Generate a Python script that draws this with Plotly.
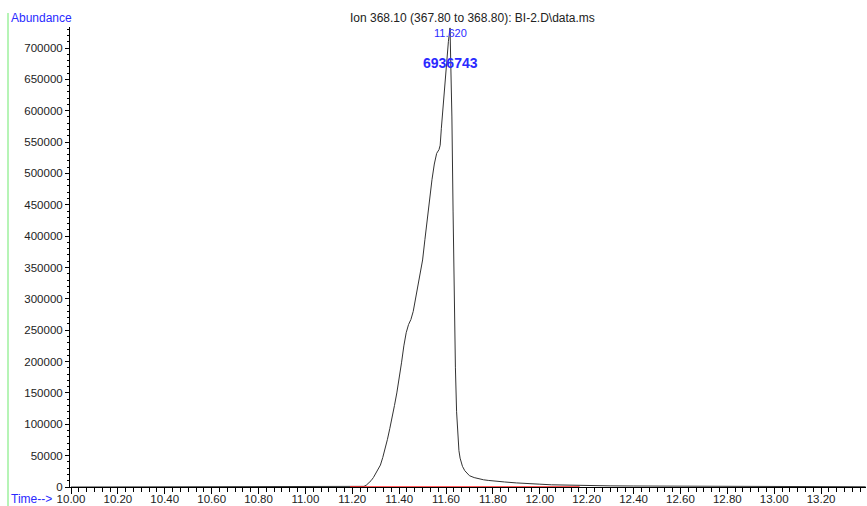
import plotly.graph_objects as go

# Chromatogram trace (time in min, abundance)
time = [10.00, 10.50, 11.00, 11.20, 11.23, 11.25, 11.26, 11.27, 11.28, 11.29, 11.30,
        11.31, 11.32, 11.33, 11.34, 11.35, 11.36, 11.37, 11.38, 11.39, 11.40,
        11.41, 11.42, 11.43, 11.44, 11.45, 11.46, 11.47, 11.48, 11.49, 11.497,
        11.50, 11.51, 11.52, 11.53, 11.54, 11.55, 11.56, 11.57, 11.575, 11.58,
        11.59, 11.60, 11.61, 11.617, 11.625, 11.630, 11.635, 11.640, 11.645,
        11.650, 11.655, 11.660, 11.670, 11.680, 11.690, 11.70, 11.72, 11.74,
        11.76, 11.78, 11.80, 11.85, 11.90, 11.95, 12.00, 12.05, 12.10, 12.15,
        12.20, 12.30, 12.40, 12.50, 12.60, 12.70, 12.80, 12.90, 13.00, 13.10,
        13.20, 13.30, 13.39]
abundance = [0, 0, 0, 0, 0, 1000, 3000, 6000, 10000, 15000, 21000,
             27000, 35000, 47000, 60000, 76000, 93000, 110000, 130000, 150000, 172000,
             198000, 225000, 246000, 259000, 267000, 280000, 300000, 322000, 345000, 354000,
             362000, 395000, 428000, 462000, 490000, 515000, 532000, 538000, 545000, 572000,
             622000, 672000, 710000, 732000, 590000, 440000, 300000, 190000, 120000,
             80000, 58000, 46000, 33000, 26000, 21000, 18000, 15000, 13000,
             11500, 10500, 9500, 8000, 6500, 5000, 4500, 3500, 3000, 2500,
             2200, 1800, 1600, 1400, 1300, 1200, 1100, 1000, 900, 800,
             700, 500, 400]

# Integration baseline
baseline_time = [11.19, 12.17]
baseline_abund = [0, 0]

peak_rt = 11.620
peak_area = "6936743"
title_text = "Ion 368.10 (367.80 to 368.80): BI-2.D\\data.ms"

x_ticks = [round(10.0 + 0.2 * i, 2) for i in range(17)]
y_ticks = list(range(0, 700001, 50000))

blue = "#2a2aff"
font_family = "Liberation Sans, Arial, sans-serif"

fig = go.Figure()
fig.add_trace(go.Scatter(x=time, y=abundance, mode="lines",
                         line=dict(color="#333333", width=1), hoverinfo="skip"))

L, R, T, B = 70, 866, 27, 487
W, H = 867, 506
def px(x):
    return (x - L) / (R - L)
def py(y):
    return (B - y) / (B - T)

fig.update_layout(
    width=W, height=H,
    margin=dict(l=L, r=W - R, t=T, b=H - B, pad=0, autoexpand=False),
    paper_bgcolor="white", plot_bgcolor="white",
    showlegend=False,
    font=dict(family=font_family, size=11.5, color="#222222"),
    xaxis=dict(range=[10 - 1 / 234.4, 10 + (R - 71) / 234.4], automargin=False,
               tickmode="array", tickvals=x_ticks, ticktext=[f"{v:.2f}" for v in x_ticks],
               ticks="outside", ticklen=6, tickwidth=1, tickcolor="black",
               ticklabelstandoff=-5,
               showline=True, linecolor="black", linewidth=1,
               showgrid=False, zeroline=False,
               minor=dict(ticks="outside", ticklen=4, tickwidth=1, tickcolor="black",
                          tick0=10, dtick=0.2 / 6, showgrid=False),
               tickfont=dict(size=11.5)),
    yaxis=dict(range=[0, 700000 * (B - T) / (B - 48)], automargin=False,
               tickmode="array", tickvals=y_ticks, ticktext=[str(v) for v in y_ticks],
               ticks="outside", ticklen=4, tickwidth=1, tickcolor="black",
               showline=True, linecolor="black", linewidth=1,
               showgrid=False, zeroline=False,
               minor=dict(ticks="outside", ticklen=2, tickwidth=1, tickcolor="black",
                          tick0=0, dtick=10000, showgrid=False),
               tickfont=dict(size=11.5)),
)

# integration baseline drawn over the axis line
fig.add_shape(type="line", xref="x", yref="y", layer="above",
              x0=baseline_time[0], x1=baseline_time[1],
              y0=baseline_abund[0], y1=baseline_abund[1],
              line=dict(color="#ff2020", width=1.5))

fig.add_shape(type="line", xref="paper", yref="paper",
              x0=px(8), x1=px(8), y0=py(506), y1=py(13),
              line=dict(color="#9ef09e", width=1.5))

fig.add_annotation(text="Abundance", xref="paper", yref="paper", x=px(9), y=py(18),
                   xanchor="left", yanchor="middle", showarrow=False,
                   font=dict(color=blue, size=12))
fig.add_annotation(text="Time-->", xref="paper", yref="paper", x=px(9), y=py(499),
                   xanchor="left", yanchor="middle", showarrow=False,
                   font=dict(color=blue, size=12))
fig.add_annotation(text=title_text, xref="paper", yref="paper", x=px(472), y=py(18),
                   xanchor="center", yanchor="middle", showarrow=False,
                   font=dict(color="#222222", size=12))
fig.add_annotation(text=f"{peak_rt:.3f}", x=peak_rt, xref="x", yref="paper", y=py(33),
                   xanchor="center", yanchor="middle", showarrow=False,
                   font=dict(color=blue, size=11))
fig.add_annotation(text=f"<b>{peak_area}</b>", x=peak_rt, xref="x", yref="paper", y=py(63),
                   xanchor="center", yanchor="middle", showarrow=False,
                   font=dict(color=blue, size=14))

fig.write_html("out.html")
